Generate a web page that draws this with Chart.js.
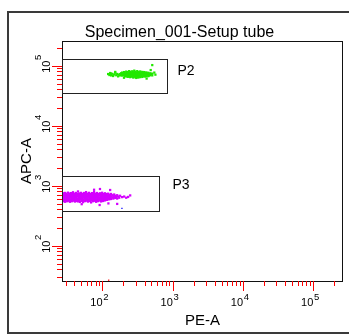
<!DOCTYPE html>
<html><head><meta charset="utf-8">
<script src="https://cdn.jsdelivr.net/npm/chart.js@4.4.1/dist/chart.umd.min.js"></script>
<style>html,body{margin:0;padding:0;background:#fff;overflow:hidden}#wrap{width:349px;height:336px}</style>
</head><body><div id="wrap"><canvas id="c" width="349" height="336"></canvas></div>
<script>
// ---- text ----
const chartTitle = 'Specimen_001-Setup tube';
const xAxisTitle = 'PE-A';
const yAxisTitle = 'APC-A';
// ---- axis range (log, 2^18 top) ----
const axisMin = 26.2144;
const axisMax = 262144;
// ---- decade tick labels ----
const tickValues = [100, 1000, 10000, 100000];
const tickBase = '10';
const tickExponents = ['2', '3', '4', '5'];
// ---- all tick marks (minor + major) ----
const allTickValues = [30,40,50,60,70,80,90,100,200,300,400,500,600,700,800,900,1000,2000,3000,4000,5000,6000,7000,8000,9000,10000,20000,30000,40000,50000,60000,70000,80000,90000,100000,200000];
// ---- gates ----
const gateNames = ['P2', 'P3'];
const gateXMin = [26.2144, 26.2144];
const gateXMax = [820, 637];
const gateYMin = [35600, 389];
const gateYMax = [129700, 1472];
// ---- events [PE-A, APC-A] ----
const p2Events = [
 [119,73800],[124,71000],[127,76700],[131,70000],[136,74500],[140,68400],[145,72500],[150,77500],[155,70500],[160,74000],[165,67500],[170,72000],
 [176,73800],[176,70000],[182,76000],[182,71500],[188,74500],[188,69500],[188,78000],[195,72500],[195,76500],
 [201,79500],[201,74000],[201,70000],[208,76000],[208,71500],[208,67500],[215,81000],[215,74500],[215,69500],
 [222,77500],[222,72000],[222,67000],[229,79500],[229,75000],[229,70500],[229,66500],
 [237,82500],[237,77000],[237,72500],[237,68000],[245,80000],[245,75500],[245,71000],[245,65500],
 [253,78000],[253,73500],[253,68500],[262,82000],[262,76500],[262,71500],[262,66500],
 [271,79000],[271,74000],[271,69500],[271,64500],[280,84000],[280,77500],[280,72500],[280,67500],
 [290,80500],[290,75500],[290,70500],[290,65500],[299,78000],[299,73000],[299,68500],[299,63500],
 [309,82500],[309,76500],[309,71500],[309,66500],[319,79500],[319,74500],[319,69500],[319,64500],
 [330,77000],[330,72500],[330,67500],[340,81500],[340,75500],[340,70500],[340,65500],
 [352,78500],[352,73500],[352,68500],[364,80000],[364,75000],[364,70000],[364,66000],
 [376,77500],[376,72000],[376,67500],[388,79500],[388,74000],[388,69000],
 [401,76500],[401,71500],[401,67000],[415,78500],[415,73000],[415,68500],
 [429,75500],[429,70500],[443,77500],[443,72500],[443,68000],[458,74000],[458,69500],
 [473,76000],[473,71000],[489,73500],[505,75000],[505,70000],
 [540,78000],[560,72000],[505,104000],[480,86000],[420,62000],[200,64000],[150,80000],[130,75000]
];
const p3Events = [
 [27.2,760],[27.2,700],[27.2,650],[27.2,600],[27.2,560],
 [28.0,735],[28.0,680],[28.0,620],[28.0,575],
 [29.0,770],[29.0,712],[29.0,655],[29.0,598],[29.0,548],
 [29.9,745],[29.9,690],[29.9,630],[29.9,580],
 [31.0,725],[31.0,665],[31.0,610],[31.0,560],
 [31.9,778],[31.9,705],[31.9,645],[31.9,590],
 [33.0,750],[33.0,690],[33.0,625],[33.0,570],
 [34.0,720],[34.0,660],[34.0,603],[34.0,548],
 [35.2,765],[35.2,700],[35.2,640],[35.2,585],
 [36.4,738],[36.4,678],[36.4,615],[36.4,560],
 [37.6,790],[37.6,715],[37.6,655],[37.6,598],
 [38.8,748],[38.8,688],[38.8,628],[38.8,572],
 [40.1,722],[40.1,662],[40.1,606],[40.1,553],
 [41.5,770],[41.5,702],[41.5,642],[41.5,588],
 [42.9,740],[42.9,680],[42.9,620],[42.9,566],
 [44.3,815],[44.3,728],[44.3,668],[44.3,610],[44.3,556],
 [45.8,755],[45.8,695],[45.8,634],[45.8,578],
 [47.3,730],[47.3,670],[47.3,612],[47.3,545],
 [48.9,772],[48.9,708],[48.9,648],[48.9,592],
 [50.6,742],[50.6,684],[50.6,624],[50.6,568],
 [52.3,718],[52.3,658],[52.3,600],[52.3,540],
 [54.0,768],[54.0,700],[54.0,640],[54.0,582],
 [55.8,738],[55.8,676],[55.8,618],[55.8,562],
 [57.7,795],[57.7,712],[57.7,652],[57.7,595],
 [59.6,748],[59.6,688],[59.6,628],[59.6,572],
 [61.5,725],[61.5,664],[61.5,605],[61.5,552],
 [63.6,772],[63.6,705],[63.6,645],[63.6,588],
 [65.8,740],[65.8,680],[65.8,620],[65.8,565],
 [68.0,718],[68.0,658],[68.0,600],[68.0,535],
 [70.2,765],[70.2,698],[70.2,636],[70.2,580],
 [72.6,735],[72.6,674],[72.6,614],[72.6,560],
 [75.0,802],[75.0,712],[75.0,652],[75.0,595],
 [77.5,748],[77.5,688],[77.5,626],[77.5,570],
 [80.2,722],[80.2,662],[80.2,604],[80.2,548],
 [82.8,768],[82.8,700],[82.8,640],[82.8,584],
 [85.5,738],[85.5,676],[85.5,616],[85.5,562],
 [88.4,710],[88.4,650],[88.4,594],
 [91.4,760],[91.4,694],[91.4,632],[91.4,575],
 [94.4,730],[94.4,668],[94.4,610],[94.4,555],
 [97.5,775],[97.5,705],[97.5,645],[97.5,588],
 [101,742],[101,680],[101,620],[101,565],
 [104,718],[104,656],[104,598],
 [107.5,760],[107.5,692],[107.5,632],[107.5,578],
 [111,735],[111,670],[111,612],
 [115,705],[115,648],[115,590],
 [119,748],[119,684],[119,625],
 [123,720],[123,660],[123,602],
 [127,690],[127,632],[131,740],[131,668],[131,610],
 [136,705],[136,645],[141,680],[141,620],[145,725],[145,660],
 [150,690],[150,635],[155,655],[160,705],[160,620],[165,672],[171,640],[176,690],
 [188,655],[201,670],[215,640],[229,660],
 [91,895],[127,861],[90,484],[120,515],[75,870],[50,500],[160,505],[245,700]
];
const otherBlue = [[187,426]];
const otherRed = [[121,27]];

const toPts = arr => arr.map(e => ({x: e[0], y: e[1]}));
const FONT = '"Liberation Sans", Arial, sans-serif';

const overlay = {
  id: 'overlay',
  afterDraw(chart) {
    const ctx = chart.ctx, xs = chart.scales.x, ys = chart.scales.y, a = chart.chartArea;
    const snap = v => Math.round(v) + 0.5;
    ctx.save();
    ctx.strokeStyle = '#3a3a3a'; ctx.lineWidth = 2;
    ctx.strokeRect(8, 12, 400, 321);
    ctx.strokeStyle = '#111'; ctx.lineWidth = 1;
    const L = snap(a.left), T = snap(a.top), R = snap(a.right) - 1, B = snap(a.bottom);
    ctx.strokeRect(L, T, R - L, B - T);
    ctx.fillStyle = '#000';
    tickValues.forEach((v, i) => {
      const px = xs.getPixelForValue(v);
      ctx.font = '11px ' + FONT;
      ctx.textAlign = 'right'; ctx.textBaseline = 'alphabetic';
      ctx.fillText(tickBase, px - 0.3, 306);
      ctx.font = '9.5px ' + FONT;
      ctx.textAlign = 'left';
      ctx.fillText(tickExponents[i], px + 0.5, 300);
      const py = ys.getPixelForValue(v);
      ctx.save();
      ctx.translate(50, py); ctx.rotate(-Math.PI / 2);
      ctx.font = '11px ' + FONT;
      ctx.textAlign = 'right';
      ctx.fillText(tickBase, 5.5, 0);
      ctx.font = '9.5px ' + FONT;
      ctx.textAlign = 'left';
      ctx.fillText(tickExponents[i], 6, -9);
      ctx.restore();
    });
    ctx.strokeStyle = '#222'; ctx.lineWidth = 1;
    const labelOff = [[10, 15.7], [13, 12.3]];
    gateNames.forEach((g, i) => {
      const x0 = snap(xs.getPixelForValue(gateXMin[i])), x1 = snap(xs.getPixelForValue(gateXMax[i]));
      const y0 = snap(ys.getPixelForValue(gateYMax[i])), y1 = snap(ys.getPixelForValue(gateYMin[i]));
      ctx.strokeRect(x0, y0, x1 - x0, y1 - y0);
      ctx.font = '14px ' + FONT;
      ctx.textAlign = 'left'; ctx.textBaseline = 'alphabetic';
      ctx.fillText(g, x1 + labelOff[i][0], y0 + labelOff[i][1]);
    });
    ctx.font = '16px ' + FONT;
    ctx.textAlign = 'center';
    ctx.fillText(chartTitle, 179.5, 37);
    ctx.font = '15px ' + FONT;
    ctx.fillText(xAxisTitle, (a.left + a.right) / 2, 325);
    ctx.save();
    ctx.translate(30.5, (a.top + a.bottom) / 2);
    ctx.rotate(-Math.PI / 2);
    ctx.fillText(yAxisTitle, 0, 0);
    ctx.restore();
    ctx.restore();
    // tick marks drawn last
    ctx.save();
    ctx.setTransform(1, 0, 0, 1, 0, 0);
    ctx.globalAlpha = 1;
    ctx.globalCompositeOperation = 'source-over';
    ctx.fillStyle = '#ff0000';
    const major = new Set(tickValues);
    allTickValues.forEach(v => {
      const len = major.has(v) ? 10 : 5;
      const px = Math.round(xs.getPixelForValue(v) - 0.5);
      ctx.fillRect(px, Math.round(a.bottom), 1, len);
      const py = Math.round(ys.getPixelForValue(v) - 0.5);
      ctx.fillRect(Math.round(a.left) - len, py, len, 1);
    });
    ctx.restore();
  }
};

const ptStyle = {showLine: false, pointStyle: 'rect', pointRadius: 1.6, pointBorderWidth: 0, borderWidth: 0};
new Chart(document.getElementById('c'), {
  type: 'scatter',
  data: {
    datasets: [
      Object.assign({label: 'P2', data: toPts(p2Events), backgroundColor: '#22e800', pointBackgroundColor: '#22e800'}, ptStyle),
      Object.assign({label: 'P3', data: toPts(p3Events), backgroundColor: '#d400ff', pointBackgroundColor: '#d400ff'}, ptStyle),
      {label: 'other', data: toPts(otherBlue), backgroundColor: '#2020ff', pointBackgroundColor: '#2020ff', pointRadius: 1, showLine: false, pointStyle: 'rect', borderWidth: 0},
      {label: 'other2', data: toPts(otherRed), backgroundColor: '#ff2020', pointBackgroundColor: '#ff2020', pointRadius: 1, showLine: false, pointStyle: 'rect', borderWidth: 0}
    ]
  },
  options: {
    responsive: false, animation: false, devicePixelRatio: 1, events: [],
    layout: {padding: {left: 62, top: 41, right: 6, bottom: 55}},
    plugins: {legend: {display: false}, tooltip: {enabled: false}, title: {display: false}},
    scales: {
      x: {type: 'logarithmic', min: axisMin, max: axisMax, display: false},
      y: {type: 'logarithmic', min: axisMin, max: axisMax, display: false}
    }
  },
  plugins: [overlay]
});
</script></body></html>
